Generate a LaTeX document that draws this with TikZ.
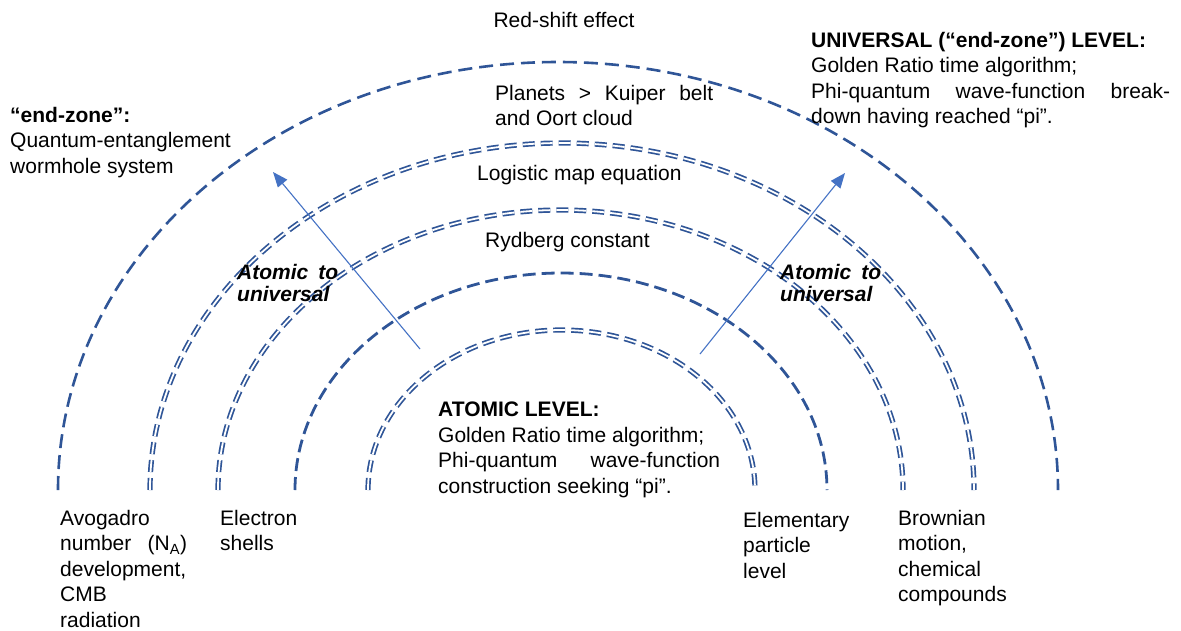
\documentclass[tikz,border=0pt]{standalone}
\usepackage{fontspec}
\setmainfont{Liberation Sans}
\usetikzlibrary{arrows.meta}
\definecolor{arcblue}{RGB}{47,85,151}
\definecolor{arrblue}{RGB}{68,114,196}
\tikzset{
  txt/.style={inner sep=0pt, anchor=north west, align=left, font=\fontsize{21}{25.5}\selectfont},
  atu/.style={inner sep=0pt, anchor=north west, align=left, font=\fontsize{21}{22.5}\selectfont\bfseries\itshape},
  arcsingle/.style={draw=arcblue, line width=2.6pt, dash pattern=on 14pt off 7pt},
  arcthick/.style={draw=arcblue, line width=2.8pt, dash pattern=on 13pt off 6pt},
  arcdouble/.style={draw=arcblue, line width=1.7pt, double=white, double distance=1.8pt, dash pattern=on 12pt off 6pt},
  arr/.style={draw=arrblue, line width=1.1pt, -{Triangle[length=15pt,width=12pt]}}
}
\begin{document}
\begin{tikzpicture}[x=1pt,y=-1pt]
\useasboundingbox (0,0) rectangle (1181,630);
% arcs
\draw[arcdouble] (368,490) arc[start angle=180,end angle=360,x radius=193.5,y radius=160];
\draw[arcthick]  (295,490) arc[start angle=180,end angle=360,x radius=266,y radius=217];
\draw[arcdouble] (218,490) arc[start angle=180,end angle=360,x radius=342.5,y radius=280];
\draw[arcdouble] (150,490) arc[start angle=180,end angle=360,x radius=412,y radius=347];
\draw[arcsingle] (58,490) arc[start angle=180,end angle=360,x radius=500,y radius=428];
% arrows
\coordinate (l0) at (420,349);
\coordinate (l1) at (273,172);
\coordinate (r0) at (700,354);
\coordinate (r1) at (845,173);
\draw[arr] (l0) -- (l1);
\draw[arr] (r0) -- (r1);
% texts
\node[txt, anchor=north] (redshift) at (564,12) {Red-shift effect};
\node[txt] (universal) at (811,32) {\textbf{UNIVERSAL (“end-zone”) LEVEL:}\\Golden Ratio time algorithm;\\\makebox[359pt][s]{Phi-quantum wave-function break-}\\down having reached “pi”.};
\node[txt] (endzone) at (10,107) {\textbf{“end-zone”:}\\Quantum-entanglement\\wormhole system};
\node[txt] (planets) at (495,85) {\makebox[218pt][s]{Planets > Kuiper belt}\\and Oort cloud};
\node[txt] (logistic) at (477,165) {Logistic map equation};
\node[txt] (rydberg) at (485,232) {Rydberg constant};
\node[atu] (atu1) at (237,264) {\makebox[101pt][s]{Atomic to}\\universal};
\node[atu] (atu2) at (780,264) {\makebox[101pt][s]{Atomic to}\\universal};
\node[txt] (atomic) at (438,402) {\textbf{ATOMIC LEVEL:}\\Golden Ratio time algorithm;\\\makebox[282pt][s]{Phi-quantum wave-function}\\construction seeking “pi”.};
\node[txt] (avogadro) at (60,510) {Avogadro\\\makebox[127pt][s]{number (N\textsubscript{A})}\\development,\\CMB\\radiation};
\node[txt] (electron) at (220,510) {Electron\\shells};
\node[txt] (elementary) at (743,512) {Elementary\\particle\\level};
\node[txt] (brownian) at (898,510) {Brownian\\motion,\\chemical\\compounds};
\end{tikzpicture}
\end{document}
